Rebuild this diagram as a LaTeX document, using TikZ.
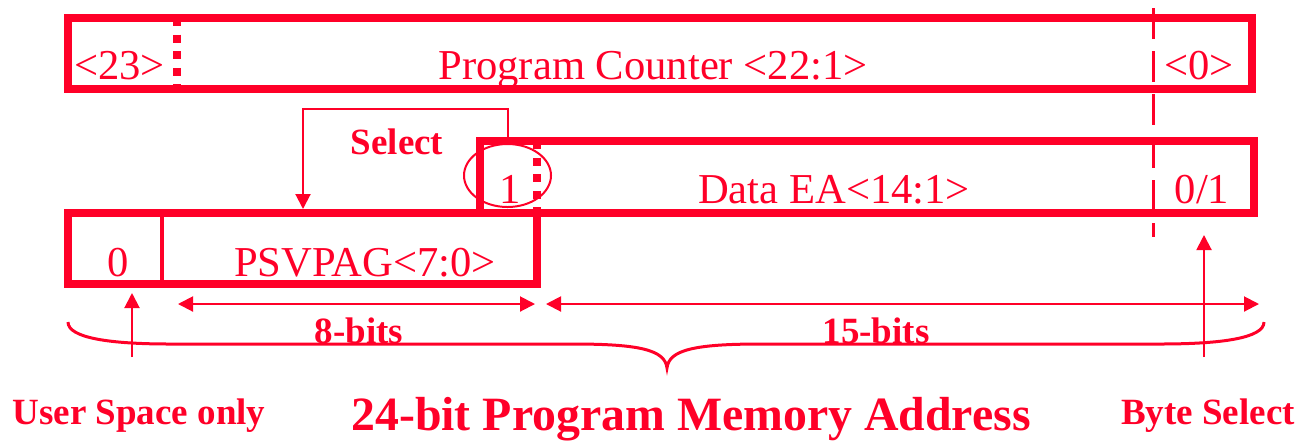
\documentclass[tikz,border=0pt]{standalone}
\usepackage{fontspec}
\setmainfont{Liberation Serif}
\usetikzlibrary{arrows.meta,shapes.geometric}
\definecolor{pr}{RGB}{255,0,40}
\tikzset{
  regbox/.style={draw=pr, line width=4pt, inner sep=0pt, minimum width=#1},
  reg/.style={text=pr, inner sep=0pt, anchor=base, font=\fontsize{21.3}{24}\selectfont},
  lbl/.style={text=pr, inner sep=0pt, anchor=base, font=\fontsize{18.5}{21}\selectfont\bfseries},
  biglbl/.style={text=pr, inner sep=0pt, anchor=base, font=\fontsize{23.9}{27}\selectfont\bfseries},
  thinline/.style={draw=pr, line width=1pt},
  tip/.style={-{Triangle[length=7.5pt,width=7.5pt]}},
  dtip/.style={{Triangle[length=7.5pt,width=7.5pt]}-{Triangle[length=7.5pt,width=7.5pt]}},
  dotsline/.style={draw=pr, line width=4pt, dash pattern=on 4pt off 4.3pt},
  dashline/.style={draw=pr, line width=1.5pt, dash pattern=on 15.5pt off 6pt},
}
\begin{document}
\begin{tikzpicture}[x=0.5pt,y=-0.5pt]
\useasboundingbox (0,0) rectangle (1300,441);
% boxes
\node[regbox=592pt, minimum height=35.5pt] (pc) at (660,53.5) {};
\node[regbox=387pt, minimum height=35.75pt] (dea) at (867,176.75) {};
\node[regbox=234.5pt, minimum height=35.5pt] (psv) at (302.5,248.5) {};
% internal dividers
\coordinate (d1t) at (177,18); \coordinate (d1b) at (177,89);
\draw[dotsline] (d1t) -- (d1b);
\coordinate (d2t) at (537,141); \coordinate (d2b) at (537,212);
\draw[dotsline] (d2t) -- (d2b);
\coordinate (d3t) at (162,213); \coordinate (d3b) at (162,284);
\draw[draw=pr, line width=2pt] (d3t) -- (d3b);
\coordinate (bt) at (1153,8); \coordinate (bb) at (1153,237);
\draw[dashline] (bt) -- (bb);
% texts
\node[reg] (t23) at (119.5,79) {<23>};
\node[reg] (tpc) at (653,79) {Program Counter <22:1>};
\node[reg] (t0a) at (1199,79) {<0>};
\node[lbl] (tsel) at (397,154) {Select};
\node[reg] (t1) at (510,203) {1};
\node[reg] (tdea) at (834,203) {Data EA<14:1>};
\node[reg] (t01) at (1202,203) {0/1};
\node[reg] (t0) at (118,276) {0};
\node[reg] (tpsv) at (365,276) {PSVPAG<7:0>};
\node[lbl] (t8) at (359,343) {8-bits};
\node[lbl] (t15) at (876,343) {15-bits};
\node[lbl] (tus) at (139,424) {User Space only};
\node[biglbl] (t24) at (691,430) {24-bit Program Memory Address};
\node[lbl] (tbs) at (1208,424) {Byte Select};
% ellipse
\node[draw=pr, line width=1pt, ellipse, inner sep=0pt, minimum width=43.5pt, minimum height=31.5pt] (ell) at (507.5,175.5) {};
% select connector
\coordinate (selA) at (508,137);
\coordinate (selB) at (303,109);
\draw[thinline, tip] (selA) |- (selB) -- (selB |- psv.north);
% bit arrows
\coordinate (a8l) at (178,304); \coordinate (a8r) at (535,304);
\draw[thinline, dtip] (a8l) -- (a8r);
\coordinate (a15l) at (546,304); \coordinate (a15r) at (1259,304);
\draw[thinline, dtip] (a15l) -- (a15r);
% brace
\draw[draw=pr, line width=1.5pt] (68,322) .. controls (68,338) and (110,344) .. (170,344)
  -- (573,344) .. controls (640,344) and (665,350) .. (667,368)
  .. controls (669,350) and (694,344) .. (761,344)
  -- (1160,344) .. controls (1222,344) and (1264,338) .. (1264,322);
% up arrows
\coordinate (u1b) at (132,357); \coordinate (u1t) at (132,293);
\draw[thinline, tip] (u1b) -- (u1t);
\coordinate (u2b) at (1204,357); \coordinate (u2t) at (1204,235);
\draw[thinline, tip] (u2b) -- (u2t);
\end{tikzpicture}
\end{document}
